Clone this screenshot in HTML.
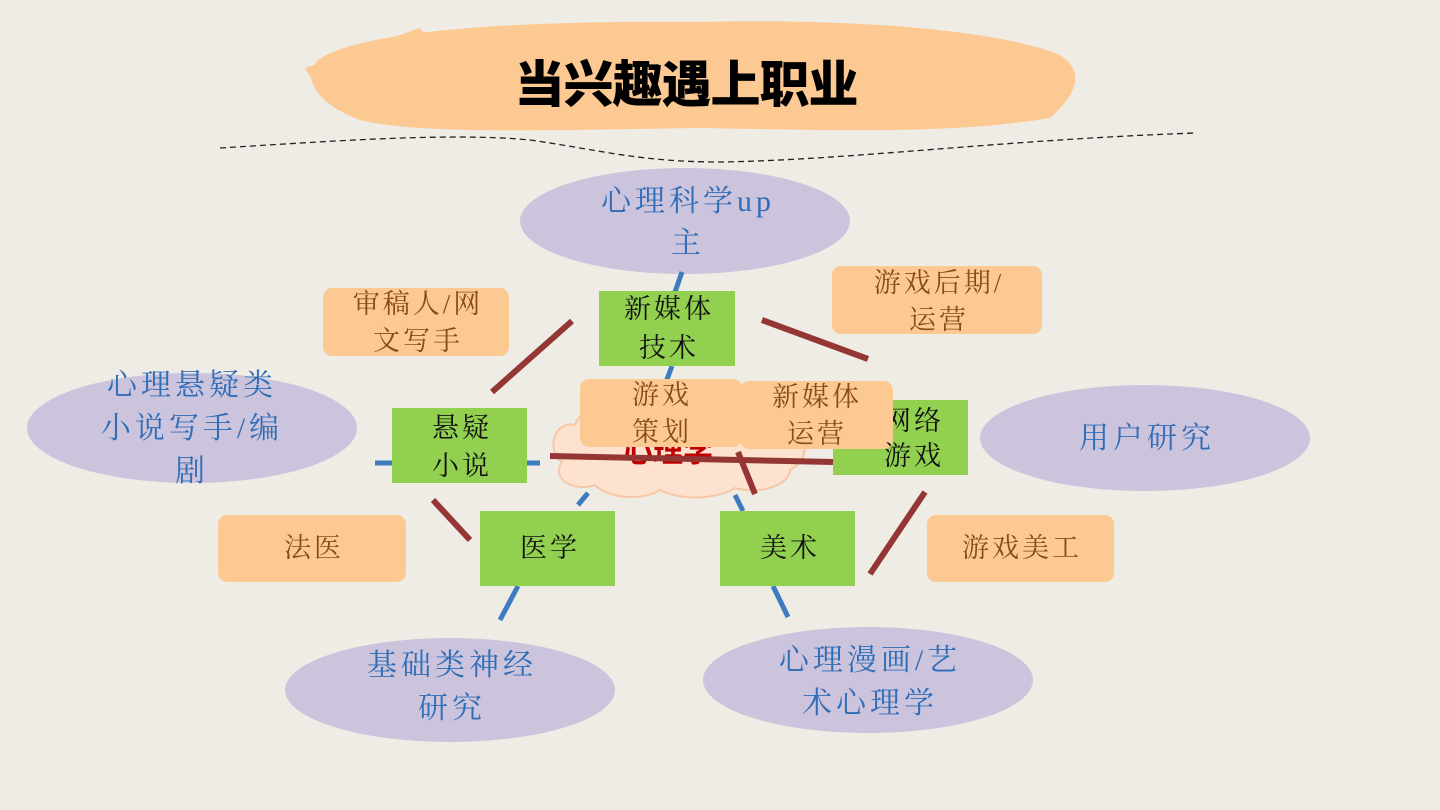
<!DOCTYPE html>
<html><head><meta charset="utf-8"><style>
html,body{margin:0;padding:0}
body{width:1440px;height:810px;overflow:hidden;background:#efece5}
svg{display:block}
.t{font-family:"Liberation Serif","Noto Serif CJK SC",serif;text-anchor:middle}
.b{fill:#2f6db6;font-size:30px;letter-spacing:4px}
.o{fill:#8a4b16;font-size:27px;letter-spacing:3px}
.g{fill:#111;font-size:27px;letter-spacing:3px}
</style></head><body>
<svg width="1440" height="810" viewBox="0 0 1440 810">
<rect width="1440" height="810" fill="#efece5"/>
<g fill="#fcc993">
<path d="M318,60 C360,30 520,20 700,22 C850,18 1000,30 1060,55 C1090,75 1070,100 1050,118 C950,135 820,130 700,128 C560,130 420,135 360,120 C320,105 300,80 318,60Z"/>
<path d="M305,68 L420,28 L430,42 L312,80Z"/>
<path d="M1000,40 L1075,75 L1068,92 L990,58Z"/>
</g>
<text x="686" y="102" style="font-family:'Liberation Sans','Noto Sans CJK SC',sans-serif;font-weight:900;font-size:50px;text-anchor:middle;letter-spacing:-1px" fill="#000">当兴趣遇上职业</text>
<path d="M220,148 C320,142 450,132 530,140 C600,150 640,162 720,162 C850,160 1000,140 1195,133" fill="none" stroke="#222" stroke-width="1.3" stroke-dasharray="6,4"/>
<g fill="#ccc3dc">
<ellipse cx="685" cy="221" rx="165" ry="53"/>
<ellipse cx="192" cy="428" rx="165" ry="55"/>
<ellipse cx="1145" cy="438" rx="165" ry="53"/>
<ellipse cx="450" cy="690" rx="165" ry="52"/>
<ellipse cx="868" cy="680" rx="165" ry="53"/>
</g>
<g stroke="#3e7cc0" stroke-width="5">
<line x1="682" y1="272" x2="675" y2="292"/>
<line x1="672" y1="366" x2="666" y2="382"/>
<line x1="375" y1="463" x2="392" y2="463"/>
<line x1="527" y1="463" x2="540" y2="463"/>
<line x1="578" y1="505" x2="588" y2="493"/>
<line x1="500" y1="620" x2="518" y2="586"/>
<line x1="735" y1="495" x2="743" y2="511"/>
<line x1="773" y1="586" x2="788" y2="617"/>
</g>
<g fill="#fde3cf" stroke="#f7c7a6" stroke-width="2">
<path d="M575,425 C555,420 545,450 562,462 C550,480 575,492 595,485 C610,500 645,500 660,490 C685,502 720,498 735,488 C760,495 790,485 790,470 C810,460 808,438 790,430 C795,412 770,400 750,408 C735,395 705,398 695,408 C675,396 640,398 630,410 C610,400 580,408 575,425Z"/>
</g>
<text x="668" y="462" style="font-family:'Liberation Sans','Noto Sans CJK SC',sans-serif;font-weight:bold;font-size:30px;text-anchor:middle" fill="#c00000">心理学</text>
<g fill="#fcc993">
<rect x="323" y="288" width="186" height="68" rx="9"/>
<rect x="832" y="266" width="210" height="68" rx="9"/>
<rect x="218" y="515" width="188" height="67" rx="9"/>
<rect x="927" y="515" width="187" height="67" rx="9"/>
</g>
<g fill="#92d050">
<rect x="599" y="291" width="136" height="75"/>
<rect x="392" y="408" width="135" height="75"/>
<rect x="833" y="400" width="135" height="75"/>
<rect x="480" y="511" width="135" height="75"/>
<rect x="720" y="511" width="135" height="75"/>
</g>
<text class="t g" x="914" y="430">网络</text>
<g fill="#fcc993">
<rect x="580" y="379" width="162" height="68" rx="9"/>
<rect x="740" y="381" width="153" height="68" rx="9"/>
</g>
<g stroke="#943634" stroke-width="6">
<line x1="492" y1="392" x2="572" y2="321"/>
<line x1="762" y1="320" x2="868" y2="359"/>
<line x1="433" y1="500" x2="470" y2="540"/>
<line x1="550" y1="456" x2="833" y2="462"/>
<line x1="738" y1="452" x2="755" y2="494"/>
<line x1="870" y1="574" x2="925" y2="492"/>
</g>
<text class="t b" x="688" y="211">心理科学up</text>
<text class="t b" x="688" y="253">主</text>
<text class="t b" x="192" y="395">心理悬疑类</text>
<text class="t b" x="192" y="438">小说写手/编</text>
<text class="t b" x="192" y="481">剧</text>
<text class="t b" x="1147" y="448">用户研究</text>
<text class="t b" x="452" y="675">基础类神经</text>
<text class="t b" x="452" y="718">研究</text>
<text class="t b" x="870" y="670">心理漫画/艺</text>
<text class="t b" x="870" y="713">术心理学</text>
<text class="t o" x="418" y="313">审稿人/网</text>
<text class="t o" x="418" y="350">文写手</text>
<text class="t o" x="939" y="292">游戏后期/</text>
<text class="t o" x="939" y="329">运营</text>
<text class="t o" x="314" y="557">法医</text>
<text class="t o" x="1022" y="557">游戏美工</text>
<text class="t o" x="662" y="404">游戏</text>
<text class="t o" x="662" y="441">策划</text>
<text class="t o" x="817" y="406">新媒体</text>
<text class="t o" x="817" y="443">运营</text>
<text class="t g" x="669" y="318">新媒体</text>
<text class="t g" x="669" y="357">技术</text>
<text class="t g" x="462" y="437">悬疑</text>
<text class="t g" x="462" y="475">小说</text>
<text class="t g" x="914" y="465">游戏</text>
<text class="t g" x="550" y="557">医学</text>
<text class="t g" x="790" y="557">美术</text>
</svg>
</body></html>
